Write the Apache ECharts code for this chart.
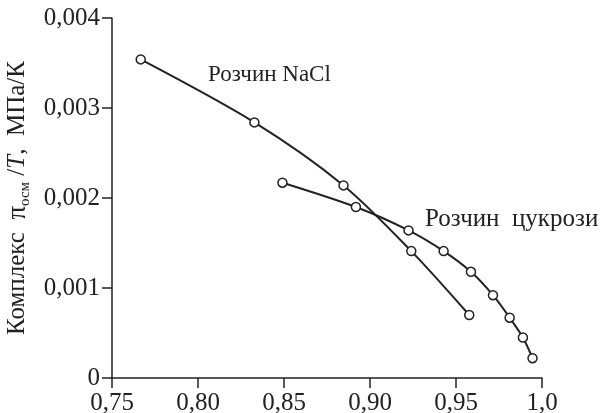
<!DOCTYPE html>
<html>
<head>
<meta charset="utf-8">
<script src="https://cdn.jsdelivr.net/npm/echarts@6/dist/echarts.min.js"></script>
<style>html,body{margin:0;padding:0;background:#fff;}#c{width:602px;height:413px;}</style>
</head>
<body>
<div id="c"></div>
<script>
// NaCl solution
const naclX = [0.7667, 0.8328, 0.8846, 0.9240, 0.9577];
const naclY = [0.00354, 0.00284, 0.00214, 0.00141, 0.00070];
// Sucrose solution
const sucX = [0.8491, 0.8918, 0.9224, 0.9428, 0.9587, 0.9715, 0.9812, 0.9889, 0.9945];
const sucY = [0.00217, 0.00190, 0.00164, 0.00141, 0.00118, 0.00092, 0.00067, 0.00045, 0.00022];
const xTickLabels = {"0.75":"0,75","0.8":"0,80","0.85":"0,85","0.9":"0,90","0.95":"0,95","1":"1,0"};
const yTickLabels = {"0":"0","0.001":"0,001","0.002":"0,002","0.003":"0,003","0.004":"0,004"};
const seriesNames = ["Розчин NaCl", "Розчин  цукрози"];

const zip = (xs, ys) => xs.map((x, i) => [x, ys[i]]);
const FONT = "'Liberation Serif', 'Times New Roman', serif";
const INK = "#222";

const chart = echarts.init(document.getElementById('c'), null, {renderer: 'canvas'});
const lineSeries = (name, data) => ({
  name, type: 'line', data, smooth: 0.3,
  symbol: 'circle', symbolSize: 9,
  lineStyle: {color: INK, width: 2},
  itemStyle: {color: '#fff', borderColor: INK, borderWidth: 1.5},
  animation: false
});
chart.setOption({
  backgroundColor: '#fff',
  animation: false,
  grid: {left: 112, right: 60, top: 18, bottom: 35, containLabel: false, outerBoundsMode: 'none'},
  xAxis: {
    type: 'value', min: 0.75, max: 1.0, interval: 0.05,
    axisLine: {show: true, onZero: false, lineStyle: {color: INK, width: 1.5}},
    axisTick: {show: true, inside: false, length: 10, lineStyle: {color: INK, width: 1.5}},
    splitLine: {show: false},
    axisLabel: {color: INK, fontFamily: FONT, fontSize: 25, margin: 13,
      formatter: v => xTickLabels[String(+v.toFixed(2))] ?? String(v)}
  },
  yAxis: {
    type: 'value', min: 0, max: 0.004, interval: 0.001,
    axisLine: {show: true, lineStyle: {color: INK, width: 1.5}},
    axisTick: {show: true, inside: false, length: 10, lineStyle: {color: INK, width: 1.5}},
    splitLine: {show: false},
    axisLabel: {color: INK, fontFamily: FONT, fontSize: 25, margin: 12,
      formatter: v => yTickLabels[String(+v.toFixed(3))] ?? String(v)},
    name: '{a|Комплекс  }{p|π}{s|осм}{a| /}{i|T}{a|,  МПа/К}',
    nameLocation: 'middle', nameRotate: 90, nameGap: 74,
    nameTextStyle: {
      padding: [0, 0, 0, 0],
      rich: {
        a: {fontFamily: FONT, fontSize: 25, color: INK, lineHeight: 30},
        p: {fontFamily: FONT, fontSize: 27, color: INK, lineHeight: 30},
        i: {fontFamily: FONT, fontSize: 25, fontStyle: 'italic', color: INK, lineHeight: 30},
        s: {fontFamily: FONT, fontSize: 15, color: INK, lineHeight: 30, verticalAlign: 'bottom'}
      }
    }
  },
  series: [lineSeries(seriesNames[0], zip(naclX, naclY)), lineSeries(seriesNames[1], zip(sucX, sucY))],
  graphic: [
    {type: 'text', left: 208, top: 63, style: {text: seriesNames[0], fontFamily: FONT, fontSize: 23, fill: INK}},
    {type: 'text', left: 425, top: 207, style: {text: seriesNames[1], fontFamily: FONT, fontSize: 25, fill: INK}}
  ]
});
</script>
</body>
</html>
